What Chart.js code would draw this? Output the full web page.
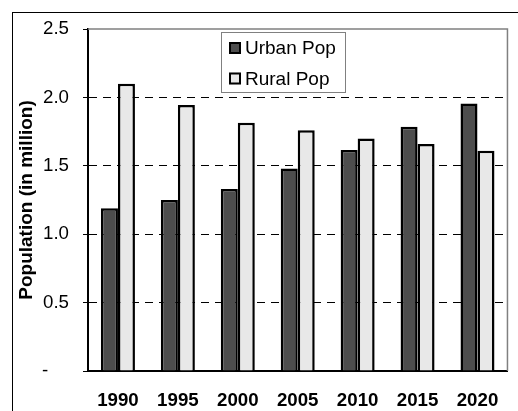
<!DOCTYPE html>
<html>
<head>
<meta charset="utf-8">
<script src="https://cdn.jsdelivr.net/npm/chart.js@4.4.0/dist/chart.umd.min.js"></script>
<style>
  html, body { margin: 0; padding: 0; background: #fff; }
  #wrap { width: 518px; height: 411px; }
</style>
</head>
<body>
<div id="wrap"><canvas id="popChart" width="518" height="411"></canvas></div>
<script>
// data
const years = ['1990', '1995', '2000', '2005', '2010', '2015', '2020'];
const urbanPop = [1.19, 1.25, 1.33, 1.48, 1.615, 1.785, 1.955];
const ruralPop = [2.10, 1.945, 1.815, 1.76, 1.70, 1.66, 1.61];
const yTickLabels = ['-    ', '0.5', '1.0', '1.5', '2.0', '2.5'];

const FONT = '"Liberation Sans", Arial, sans-serif';

// outer frame + grey top/right plot border
const framePlugin = {
    id: 'frame',
    beforeDraw(chart) {
        const ctx = chart.ctx;
        ctx.save();
        ctx.fillStyle = '#fff';
        ctx.fillRect(0, 0, chart.width, chart.height);
        ctx.strokeStyle = '#000';
        ctx.lineWidth = 1;
        ctx.strokeRect(12.5, 12.5, chart.width + 20, chart.height + 20);
        ctx.restore();
    },
    afterDatasetsDraw(chart) {
        const a = chart.chartArea;
        const ctx = chart.ctx;
        ctx.save();
        ctx.strokeStyle = '#808080';
        ctx.lineWidth = 1.5;
        ctx.beginPath();
        ctx.moveTo(a.left, a.top);
        ctx.lineTo(a.right, a.top);
        ctx.lineTo(a.right, a.bottom);
        ctx.stroke();
        ctx.restore();
    }
};

// legend box drawn inside the plot
const boxLegend = {
    id: 'boxLegend',
    afterDraw(chart) {
        const ctx = chart.ctx;
        ctx.save();
        ctx.fillStyle = '#fff';
        ctx.fillRect(222, 32, 124, 61);
        ctx.strokeStyle = '#808080';
        ctx.lineWidth = 1;
        ctx.strokeRect(221.5, 32.5, 124, 60);
        ctx.font = '19px ' + FONT;
        ctx.textBaseline = 'middle';
        chart.data.datasets.forEach((ds, i) => {
            const cy = 48 + i * 30.5;
            ctx.fillStyle = ds.backgroundColor;
            ctx.fillRect(229, cy - 6, 12, 12);
            ctx.strokeStyle = '#000';
            ctx.lineWidth = 2;
            ctx.strokeRect(230, cy - 5, 10, 10);
            ctx.fillStyle = '#000';
            ctx.fillText(ds.label, 245, cy + 1);
        });
        ctx.restore();
    }
};

new Chart(document.getElementById('popChart'), {
    type: 'bar',
    data: {
        labels: years,
        datasets: [
            {
                label: 'Urban Pop',
                data: urbanPop,
                backgroundColor: '#4d4d4d',
                borderColor: '#000',
                borderWidth: 2.5,
                categoryPercentage: 0.567,
                barPercentage: 1.0
            },
            {
                label: 'Rural Pop',
                data: ruralPop,
                backgroundColor: '#e8e8e8',
                borderColor: '#000',
                borderWidth: 2.5,
                categoryPercentage: 0.567,
                barPercentage: 1.0
            }
        ]
    },
    options: {
        responsive: false,
        animation: false,
        layout: {
            padding: { left: 12, top: 29, right: 10, bottom: 0 }
        },
        plugins: {
            legend: { display: false },
            tooltip: { enabled: false }
        },
        scales: {
            x: {
                grid: { display: false, drawTicks: false },
                border: { color: '#000', width: 2 },
                ticks: {
                    color: '#000',
                    padding: 19,
                    font: { family: FONT, size: 18.7, weight: 'bold' }
                },
                afterFit(scale) { scale.height = 40; }
            },
            y: {
                min: 0,
                max: 2.5,
                grid: {
                    color: c => (c.tick && c.tick.value > 0 && c.tick.value < 2.5) ? '#000' : 'rgba(0,0,0,0)',
                    lineWidth: 1,
                    tickColor: '#000',
                    tickLength: 5,
                    tickWidth: 1
                },
                border: { color: '#000', width: 2, dash: [8, 6] },
                ticks: {
                    stepSize: 0.5,
                    color: '#000',
                    padding: 14,
                    font: { family: FONT, size: 18.7 },
                    callback: (v, i) => yTickLabels[i]
                },
                title: {
                    display: true,
                    text: 'Population (in million)',
                    color: '#000',
                    padding: { top: 3, bottom: 0 },
                    font: { family: FONT, size: 19, weight: 'bold' }
                },
                afterFit(scale) { scale.width = 76; }
            }
        }
    },
    plugins: [framePlugin, boxLegend]
});
</script>
</body>
</html>
